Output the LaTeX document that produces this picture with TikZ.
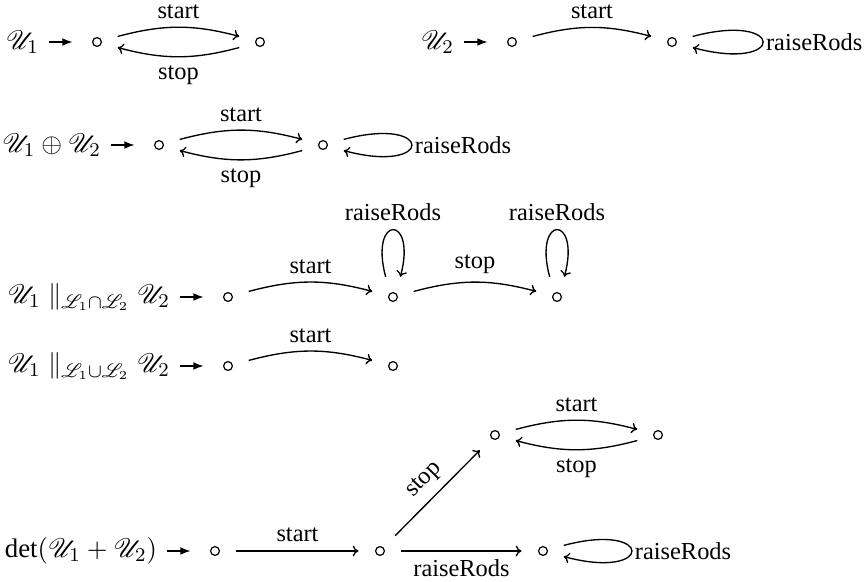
\documentclass[tikz,border=0pt]{standalone}
\usepackage{amsmath}
\usepackage{mathrsfs}
\usepackage{fontspec}
\setmainfont{Liberation Serif}
\usetikzlibrary{arrows.meta}

\begin{document}
\begin{tikzpicture}[x=0.41pt,y=0.41pt,
  state/.style={circle,draw,line width=0.5pt,inner sep=0pt,minimum size=3.6pt,outer sep=7pt},
  edge/.style={line width=0.55pt,-{Computer Modern Rightarrow[length=2.4pt,width=4.4pt]}},
  init/.style={line width=0.6pt,-{Latex[length=4.2pt,width=3.2pt]},shorten >=1.2pt},
  lab/.style={inner sep=0pt,outer sep=4.1pt,anchor=east,font=\fontsize{11}{13}\selectfont},
  tlab/.style={inner sep=1pt}]
\useasboundingbox (0,0) rectangle (867,582);

% U1
\node[state] (s11) at (97,540) {};
\node[state] (s12) at (260,540) {};
\node[lab] (u1) at (49,540) {$\mathscr{U}_1$};
\draw[init] (u1) -- (s11);
\draw[edge] (s11) to[bend left=15] node[above] {start} (s12);
\draw[edge] (s12) to[bend left=15] node[below] {stop} (s11);

% U2
\node[state] (s21) at (512,540) {};
\node[state] (s22) at (672,540) {};
\node[lab] (u2) at (464,540) {$\mathscr{U}_2$};
\draw[init] (u2) -- (s21);
\draw[edge] (s21) to[bend left=15] node[above] {start} (s22);
\draw[edge] (s22.15) .. controls +(15:97) and +(-15:97) .. node[right,tlab] {raiseRods} (s22.-15);

% U1 (+) U2
\node[state] (s31) at (159,437) {};
\node[state] (s32) at (323,437) {};
\node[lab] (u3) at (111,437) {$\mathscr{U}_1 \oplus \mathscr{U}_2$};
\draw[init] (u3) -- (s31);
\draw[edge] (s31) to[bend left=15] node[above] {start} (s32);
\draw[edge] (s32) to[bend left=15] node[below] {stop} (s31);
\draw[edge] (s32.15) .. controls +(15:94) and +(-15:94) .. node[right,tlab] {raiseRods} (s32.-15);

% parallel composition over the intersection
\node[state] (a) at (228,285) {};
\node[state] (b) at (393,285) {};
\node[state] (c) at (557,285) {};
\node[lab] (u4) at (180,285) {$\mathscr{U}_1 \parallel_{\mathscr{L}_1 \cap \mathscr{L}_2} \mathscr{U}_2$};
\draw[init] (u4) -- (a);
\draw[edge] (a) to[bend left=15] node[above] {start} (b);
\draw[edge] (b) to[bend left=15] node[above] {stop} (c);
\draw[edge] (b.110) .. controls +(105:65) and +(75:65) .. node[above] {raiseRods} (b.70);
\draw[edge] (c.110) .. controls +(105:65) and +(75:65) .. node[above] {raiseRods} (c.70);

% parallel composition over the union
\node[state] (d) at (228,216) {};
\node[state] (e) at (393,216) {};
\node[lab] (u5) at (180,216) {$\mathscr{U}_1 \parallel_{\mathscr{L}_1 \cup \mathscr{L}_2} \mathscr{U}_2$};
\draw[init] (u5) -- (d);
\draw[edge] (d) to[bend left=15] node[above] {start} (e);

% determinised sum
\node[state] (f) at (215,31) {};
\node[state] (g) at (380,31) {};
\node[state] (h) at (495,147) {};
\node[state] (i) at (658,147) {};
\node[state] (j) at (543,31) {};
\node[lab] (u6) at (167,31) {$\det(\mathscr{U}_1 + \mathscr{U}_2)$};
\draw[init] (u6) -- (f);
\draw[edge] (f) -- node[above] {start} (g);
\draw[edge] (g) -- node[above,sloped] {stop} (h);
\draw[edge] (g) -- node[below] {raiseRods} (j);
\draw[edge] (h) to[bend left=15] node[above] {start} (i);
\draw[edge] (i) to[bend left=15] node[below] {stop} (h);
\draw[edge] (j.15) .. controls +(15:94) and +(-15:94) .. node[right,tlab] {raiseRods} (j.-15);
\end{tikzpicture}
\end{document}
